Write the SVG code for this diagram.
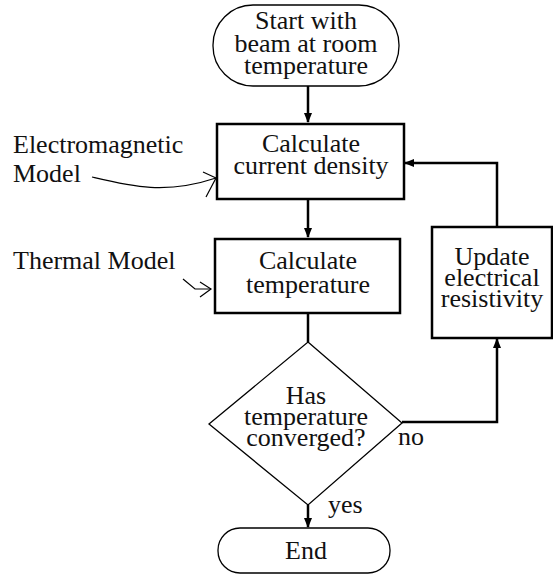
<svg xmlns="http://www.w3.org/2000/svg" width="553" height="577" viewBox="0 0 553 577" font-family="'Liberation Serif', 'DejaVu Serif', serif">
<defs>
<style>
text{font-family:'Liberation Serif','DejaVu Serif',serif;font-size:26px;fill:#111}
.c{text-anchor:middle}
.box{fill:#fff;stroke:#000;stroke-width:2.5}
.thin{fill:#fff;stroke:#000;stroke-width:1.3}
.ln{fill:none;stroke:#000;stroke-width:2.5}
.an{fill:none;stroke:#000;stroke-width:1.2}
</style>
<marker id="ah" markerWidth="10" markerHeight="12" refX="9" refY="5" orient="auto" markerUnits="userSpaceOnUse" viewBox="0 0 10 10">
<path d="M0,1 L10,5 L0,9 Z" fill="#000"/>
</marker>
</defs>
<g id="connectors">
<line class="ln" x1="308" y1="86" x2="308" y2="122" marker-end="url(#ah)"/>
<line class="ln" x1="308" y1="200" x2="308" y2="237" marker-end="url(#ah)"/>
<line class="ln" x1="308" y1="313" x2="308" y2="342"/>
<line class="ln" x1="308" y1="505" x2="308" y2="527" marker-end="url(#ah)"/>
<polyline class="ln" points="402,422 497,422 497,339" marker-end="url(#ah)"/>
<polyline class="ln" points="497,227 497,163 405,163" marker-end="url(#ah)"/>
<text x="398" y="445">no</text>
<text x="328" y="513">yes</text>
</g>
<g id="start">
<rect class="thin" x="213" y="5" width="186" height="81" rx="40" ry="40"/>
<text class="c" x="306" y="29">Start with</text>
<text class="c" x="306" y="52">beam at room</text>
<text class="c" x="306" y="74">temperature</text>
</g>
<g id="current">
<rect class="box" x="217" y="124" width="187" height="75"/>
<text class="c" x="311" y="152">Calculate</text>
<text class="c" x="311" y="174">current density</text>
</g>
<g id="temperature">
<rect class="box" x="215" y="239" width="185" height="74"/>
<text class="c" x="308" y="269">Calculate</text>
<text class="c" x="308" y="293">temperature</text>
</g>
<g id="decision">
<polygon class="thin" points="308,342 402,423 308,505 209,424"/>
<text class="c" x="306" y="404">Has</text>
<text class="c" x="306" y="425">temperature</text>
<text class="c" x="306" y="446">converged?</text>
</g>
<g id="end">
<rect class="thin" x="218" y="528" width="172" height="45" rx="22" ry="22"/>
<text class="c" x="306" y="559">End</text>
</g>
<g id="update">
<rect class="box" x="432" y="227" width="120" height="111"/>
<text class="c" x="492" y="265">Update</text>
<text class="c" x="492" y="286">electrical</text>
<text class="c" x="492" y="307">resistivity</text>
</g>
<g id="em-model">
<text x="13" y="153">Electromagnetic</text>
<text x="13" y="182">Model</text>
<path class="an" d="M92,177 C130,186 165,195 216,178"/>
<path class="an" d="M203,172 L216,178 L206,197"/>
</g>
<g id="thermal-model">
<text x="13" y="269">Thermal Model</text>
<path class="an" d="M183,279 L195,289 L211,289"/>
<path class="an" d="M200,282 L211,289 L200,297"/>
</g>
</svg>
